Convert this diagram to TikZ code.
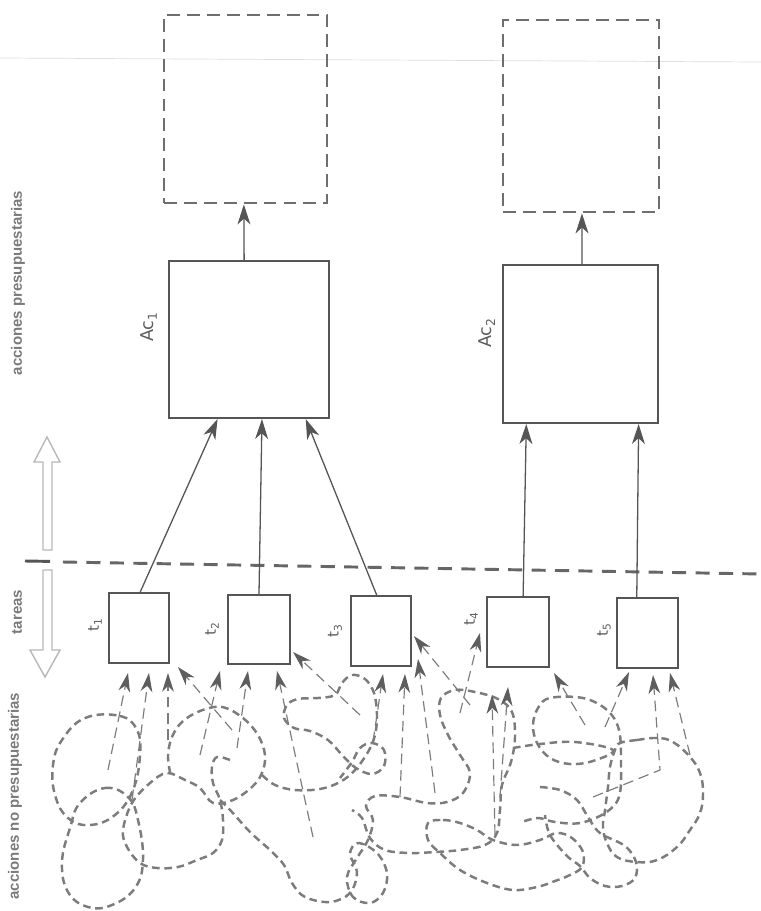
\documentclass[tikz,border=0pt]{standalone}
\usepackage{fontspec}
\setmainfont{DejaVu Sans}
\newfontfamily\sidefont{Liberation Sans}
\usetikzlibrary{arrows.meta,fit,calc}
\definecolor{boxc}{HTML}{555555}
\definecolor{tang}{HTML}{7C7C7C}
\definecolor{arrc}{HTML}{5E5E5E}
\definecolor{txtc}{HTML}{7A7A7A}
\definecolor{hollowc}{HTML}{B8B8B8}
\begin{document}
\begin{tikzpicture}[x=0.03cm,y=-0.03cm,
  solidbox/.style={draw=boxc, line width=1.8pt, inner sep=0pt},
  dashbox/.style={draw=boxc!85, line width=2.5pt, inner sep=0pt, dash pattern=on 11pt off 6pt},
  link/.style={draw=boxc, line width=1.1pt, -{Stealth[length=17pt,width=11pt,inset=5pt]}},
  inarrow/.style={draw=tang, line width=1pt, dash pattern=on 9pt off 5pt, -{Stealth[length=16pt,width=10pt,inset=5pt,color=arrc]}},
  tangle/.style={draw=tang, line width=2.1pt, dash pattern=on 6.5pt off 4pt},
  sidelabel/.style={text=txtc, font=\sidefont\bfseries\fontsize{12.8}{15}\selectfont, rotate=90, inner sep=0pt},
  boxlabel/.style={text=arrc, rotate=90, inner sep=0pt},
  hollow/.style={draw=hollowc, line width=1.2pt}
]
\fill[white] (0,0) rectangle (761,911);
\useasboundingbox (0,0) rectangle (761,911);

% faint page edge line of the scan
\draw[black!13, line width=0.6pt] (0,58) -- (761,62);

% boxes
\node[dashbox, fit={(164,15) (327,203)}] (dash1) {};
\node[solidbox, fit={(169,261) (329,418)}] (ac1) {};
\node[dashbox, fit={(503,20) (659,212)}] (dash2) {};
\node[solidbox, fit={(503,265) (658,423)}] (ac2) {};
\node[solidbox, fit={(109,593) (169,663)}] (t1) {};
\node[solidbox, fit={(228,595) (290,664)}] (t2) {};
\node[solidbox, fit={(351,596) (411,666)}] (t3) {};
\node[solidbox, fit={(487,597) (549,667)}] (t4) {};
\node[solidbox, fit={(617,598) (678,668)}] (t5) {};

% labels
\node[boxlabel, font=\fontsize{15}{17}\selectfont] (lac1) at (149,327) {Ac\textsubscript{1}};
\node[boxlabel, font=\fontsize{15}{17}\selectfont] (lac2) at (487,333) {Ac\textsubscript{2}};
\node[boxlabel, font=\fontsize{13}{15}\selectfont] (lt1) at (95,625) {t\textsubscript{1}};
\node[boxlabel, font=\fontsize{13}{15}\selectfont] (lt2) at (212,629) {t\textsubscript{2}};
\node[boxlabel, font=\fontsize{13}{15}\selectfont] (lt3) at (335,631) {t\textsubscript{3}};
\node[boxlabel, font=\fontsize{13}{15}\selectfont] (lt4) at (471,619) {t\textsubscript{4}};
\node[boxlabel, font=\fontsize{13}{15}\selectfont] (lt5) at (604,630) {t\textsubscript{5}};

\node[sidelabel] (s1) at (18,283) {acciones presupuestarias};
\node[sidelabel] (s2) at (17,612) {tareas};
\node[sidelabel] (s3) at (15,796) {acciones no presupuestarias};

% hollow double arrow
\draw[hollow] (47,437) -- (60,462) -- (52,462) -- (52,550) -- (43,550) -- (43,462) -- (34,462) -- cycle;
\draw[hollow] (43,570) -- (52,570) -- (52,650) -- (60,650) -- (45,677) -- (30,650) -- (43,650) -- cycle;

% boundary line
\coordinate (bl0) at (25,561);
\coordinate (bl1) at (50,561.4);
\coordinate (bl2) at (63,562);
\coordinate (bl3) at (761,574);
\draw[boxc, line width=2.5pt] (bl0) -- (bl1);
\draw[boxc!90, line width=2.5pt, dash pattern=on 12pt off 8pt] (bl2) -- (bl3);

% Ac -> dashed boxes
\draw[link] ($(ac1.north west)!0.47!(ac1.north east)$) -- ($(dash1.south west)!0.49!(dash1.south east)$);
\draw[link] ($(ac2.north west)!0.51!(ac2.north east)$) -- ($(dash2.south west)!0.506!(dash2.south east)$);

% tasks -> Ac
\draw[link] ($(t1.north west)!0.52!(t1.north east)$) -- ($(ac1.south west)!0.306!(ac1.south east)$);
\draw[link] ($(t2.north west)!0.5!(t2.north east)$) -- ($(ac1.south west)!0.58!(ac1.south east)$);
\draw[link] ($(t3.north west)!0.43!(t3.north east)$) -- ($(ac1.south west)!0.85!(ac1.south east)$);
\draw[link] ($(t4.north west)!0.58!(t4.north east)$) -- ($(ac2.south west)!0.155!(ac2.south east)$);
\draw[link] ($(t5.north west)!0.33!(t5.north east)$) -- ($(ac2.south west)!0.87!(ac2.south east)$);

% tangle of non-budget actions
\draw[tangle] plot[smooth cycle, tension=0.7] coordinates {(85,718) (120,716) (137,730) (140,755) (133,790) (115,815) (90,825) (68,818) (55,795) (53,765) (62,740)};
\draw[tangle] plot[smooth cycle, tension=0.7] coordinates {(80,803) (105,788) (128,797) (138,820) (143,860) (135,888) (112,905) (88,907) (68,892) (62,862) (70,828)};
\draw[tangle] plot[smooth, tension=0.6] coordinates {(230,760) (217,757) (212,767) (213,783) (220,800) (223,820) (222,840) (213,853) (197,860) (178,867) (157,868) (140,863) (127,847) (123,830) (132,803) (150,783) (167,773) (185,780) (200,788) (213,803) (233,800) (252,787) (262,773) (265,755) (258,735) (243,718) (222,707) (200,711) (182,722) (172,737) (168,755) (170,772)};
\draw[tangle] plot[smooth, tension=0.6] coordinates {(262,775) (275,785) (295,790) (320,789) (340,782) (355,770) (368,752) (375,735) (377,715) (374,693) (365,679) (352,675) (342,683) (335,695) (318,698) (298,699) (287,705) (284,718) (294,728) (310,731) (328,740) (343,756) (356,768) (372,774) (384,766) (384,750) (372,743) (360,748) (352,762) (340,778)};
\draw[tangle] plot[smooth, tension=0.6] coordinates {(220,800) (232,812) (250,832) (270,850) (284,865) (292,883) (305,897) (330,902) (350,893) (357,872) (350,854) (358,843) (377,853) (387,873) (383,893) (370,903) (353,897) (347,877) (357,858) (368,840) (373,820) (366,806) (375,796) (400,797) (427,803) (447,802) (463,793) (470,773) (460,755) (448,735) (440,715) (441,698) (455,690) (475,692) (498,699) (512,712) (515,737) (511,762) (502,785) (500,810) (497,833) (485,845) (460,850) (435,852) (410,853) (385,850) (370,838) (362,818) (352,810)};
\draw[tangle] plot[smooth cycle, tension=0.6] coordinates {(428,823) (443,820) (460,823) (477,830) (493,840) (517,845) (540,840) (557,833) (572,838) (583,852) (582,867) (570,875) (555,881) (537,887) (513,890) (487,883) (460,870) (440,853) (428,840)};
\draw[tangle] plot[smooth cycle, tension=0.7] coordinates {(620,743) (637,740) (657,738) (673,742) (690,757) (700,773) (703,793) (700,813) (690,830) (677,847) (657,860) (637,862) (617,857) (607,843) (603,827) (605,810) (608,787) (610,767) (615,750)};
\draw[tangle] plot[smooth, tension=0.6] coordinates {(513,748) (540,744) (575,742) (613,750) (593,761) (570,764) (550,758) (537,743) (533,725) (538,708) (550,698) (583,698) (607,710) (619,730) (621,765) (619,797) (605,813) (580,823) (555,822) (538,818) (522,822)};
\draw[tangle] plot[smooth, tension=0.6] coordinates {(540,787) (560,790) (577,800) (588,817) (600,833) (625,846) (636,862) (635,878) (622,886) (605,886) (590,878) (580,866) (567,856) (550,835) (545,815)};

% input arrows to the tasks
\coordinate (a1s) at (108,770); \coordinate (a1e) at (128,673);
\coordinate (a2s) at (132,800); \coordinate (a2e) at (149,673);
\coordinate (a3s) at (168,740); \coordinate (a3e) at (168,673);
\coordinate (a4s) at (232,730); \coordinate (a4e) at (178,667);
\coordinate (b1s) at (200,755); \coordinate (b1e) at (220,671);
\coordinate (b2s) at (237,748); \coordinate (b2e) at (248,671);
\coordinate (b3s) at (313,837); \coordinate (b3e) at (277,671);
\coordinate (b4s) at (360,715); \coordinate (b4e) at (293,652);
\coordinate (c1s) at (373,742); \coordinate (c1e) at (383,674);
\coordinate (c2s) at (400,797); \coordinate (c2e) at (405,674);
\coordinate (c3s) at (435,793); \coordinate (c3e) at (418,659);
\coordinate (c4s) at (470,705); \coordinate (c4e) at (414,636);
\coordinate (d1s) at (460,713); \coordinate (d1e) at (480,633);
\coordinate (d2s) at (495,835); \coordinate (d2e) at (492,695);
\coordinate (d3s) at (500,797); \coordinate (d3e) at (508,687);
\coordinate (d4s) at (585,725); \coordinate (d4e) at (554,673);
\coordinate (e1s) at (605,727); \coordinate (e1e) at (629,672);
\coordinate (e2s) at (593,797); \coordinate (e2m) at (660,770); \coordinate (e2e) at (653,675);
\coordinate (e3s) at (690,755); \coordinate (e3e) at (670,673);

\foreach \p in {a1,a2,a3,a4,b1,b2,b3,b4,c1,c2,c3,c4,d1,d2,d3,d4,e1,e3}
  \draw[inarrow] (\p s) -- (\p e);
\draw[inarrow] (e2s) -- (e2m) -- (e2e);
\end{tikzpicture}
\end{document}
